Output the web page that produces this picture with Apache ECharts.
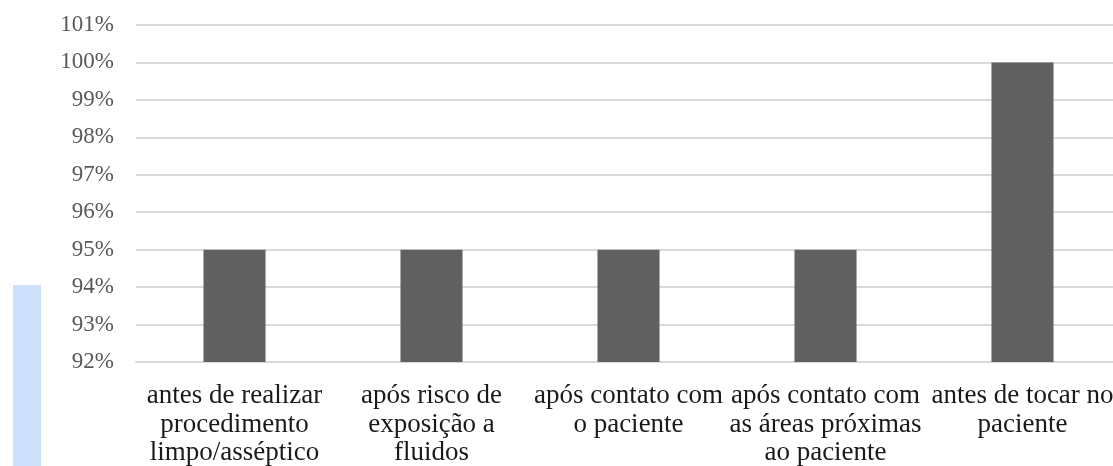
<!DOCTYPE html>
<html>
<head>
<meta charset="utf-8">
<script src="https://cdn.jsdelivr.net/npm/echarts@6/dist/echarts.min.js"></script>
<style>html,body{margin:0;padding:0;background:#fff}#c{width:1113px;height:466px}</style>
</head>
<body>
<div id="c"></div>
<script>
const categories = [
  "antes de realizar\nprocedimento\nlimpo/asséptico",
  "após risco de\nexposição a\nfluidos",
  "após contato com\no paciente",
  "após contato com\nas áreas próximas\nao paciente",
  "antes de tocar no\npaciente"
];
const values = [95, 95, 95, 95, 100];
const yMin = 92, yMax = 101, yStep = 1;

const chart = echarts.init(document.getElementById('c'), null, {renderer: 'canvas'});
chart.setOption({
  animation: false,
  backgroundColor: '#ffffff',
  graphic: [{
    type: 'rect', left: 13, top: 285, z: -1,
    shape: {width: 28, height: 181},
    style: {fill: '#cde0fb'}
  }],
  grid: {left: 136, right: -8, top: 25, bottom: 104, containLabel: false, outerBoundsMode: 'none'},
  xAxis: {
    type: 'category',
    data: categories,
    axisLine: {show: true, lineStyle: {color: '#d9d9d9', width: 2}},
    axisTick: {show: false},
    axisLabel: {
      interval: 0, margin: 20,
      fontFamily: 'Liberation Serif', fontSize: 27, lineHeight: 28.5,
      color: '#1a1a1a'
    }
  },
  yAxis: {
    type: 'value',
    min: yMin, max: yMax, interval: yStep,
    axisLine: {show: false},
    axisTick: {show: false},
    splitLine: {lineStyle: {color: '#d9d9d9', width: 2}},
    axisLabel: {
      formatter: '{value}%', margin: 22,
      fontFamily: 'Liberation Serif', fontSize: 23, color: '#595959'
    }
  },
  series: [{
    type: 'bar',
    data: values,
    barWidth: '31.5%',
    itemStyle: {color: '#606060'}
  }]
});
</script>
</body>
</html>
